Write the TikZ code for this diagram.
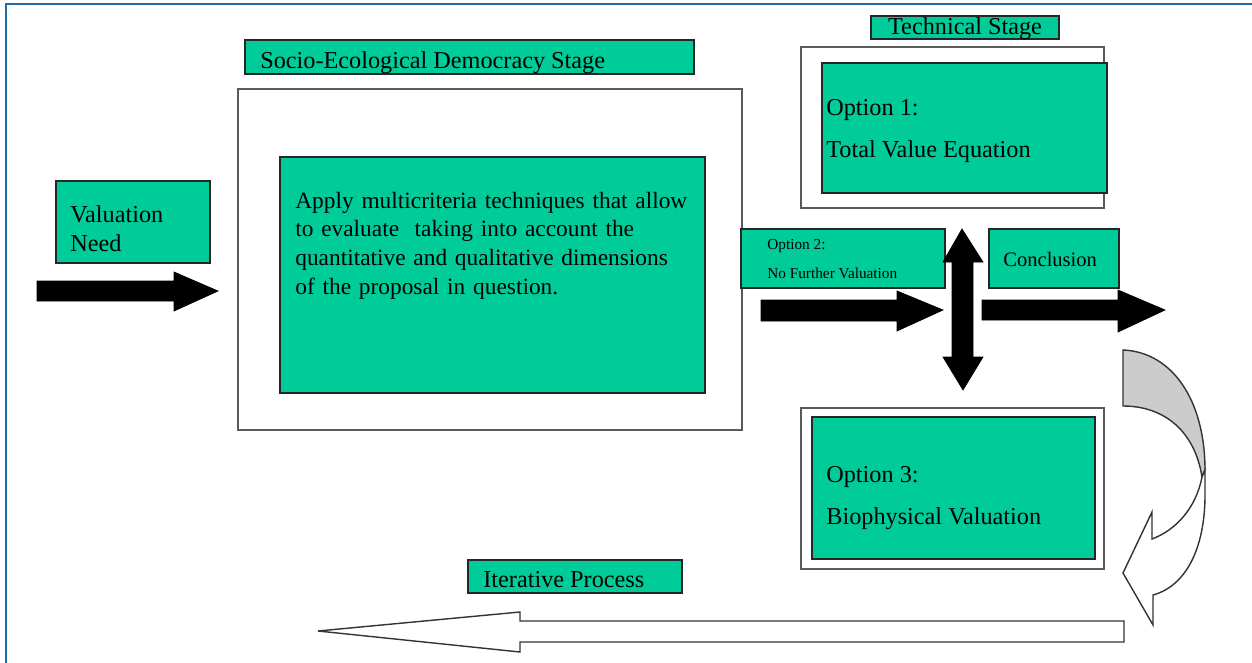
\documentclass[tikz,border=0pt]{standalone}
\usepackage{fontspec}
\setmainfont{Liberation Serif}
\usepackage{tikz}
\usetikzlibrary{calc}
\definecolor{panel}{HTML}{00CC99}
\definecolor{frame}{HTML}{1F6DA6}
\definecolor{rim}{HTML}{5A5A5A}
\definecolor{fold}{HTML}{CCCCCC}
\tikzset{
  card/.style={draw=black!85, fill=panel, line width=0.6pt},
  stage/.style={draw=rim, fill=white, line width=1.1pt},
  blk/.style={fill=black, draw=black, line width=0.4pt, line join=miter},
  hollow/.style={draw=black!80, fill=white, line width=0.8pt, line join=miter},
  big/.style={anchor=base west, inner sep=0pt, font=\fontsize{13.8}{16.5}\selectfont},
  mid/.style={anchor=base west, inner sep=0pt, font=\fontsize{11.7}{14}\selectfont},
  tiny/.style={anchor=base west, inner sep=0pt, font=\fontsize{8.7}{10}\selectfont},
}

\begin{document}
\begin{tikzpicture}[x=0.02cm, y=-0.02cm]
  \useasboundingbox (0,0) rectangle (1252,663);
  % page frame
  \draw[frame, line width=1.2pt] (6,663) -- (6,4) -- (1252,4);
  % socio-ecological stage
  \draw[card] (245,40) rectangle (694,74);
  \node[big] (socio) at (260,68) {Socio-Ecological Democracy Stage};
  \draw[stage] (238,89) rectangle (742,430);
  \draw[card] (280,157) rectangle (705,393);
  \node[big, align=left, text width=410*0.02cm, font=\fontsize{13.3}{16.5}\selectfont]
    (apply) at (295,208)
    {Apply multicriteria techniques that allow\\
     to evaluate\ \ taking into account the\\
     quantitative and qualitative dimensions\\
     of the proposal in question.};
  % valuation need
  \draw[card] (56,181) rectangle (210,263);
  \node[big] (need1) at (70,222) {Valuation};
  \node[big] (need2) at (70,251) {Need};
  \draw[blk] (37,281) -- (174,281) -- (174,272) -- (218,291) -- (174,311)
    -- (174,301) -- (37,301) -- cycle;
  % technical stage
  \draw[card] (871,16) rectangle (1059,39);
  \node[big, anchor=base] (tech) at (965,34) {Technical Stage};
  \draw[stage] (801,47) rectangle (1104,208);
  \draw[card] (822,63) rectangle (1107,193);
  \node[big] (opt1a) at (826,115) {Option 1:};
  \node[big] (opt1b) at (826,157) {Total Value Equation};
  % option 2
  \draw[card] (741,229) rectangle (945,288);
  \node[tiny] (opt2a) at (767,249) {Option 2:};
  \node[tiny] (opt2b) at (767,278) {No Further Valuation};
  \draw[blk] (761,300) -- (897,300) -- (897,291) -- (943,310) -- (897,331)
    -- (897,321) -- (761,321) -- cycle;
  % up / down arrow
  \draw[blk] (962,229) -- (983,262) -- (973,262) -- (973,357) -- (983,357)
    -- (963,390) -- (943,357) -- (952,357) -- (952,262) -- (943,262) -- cycle;
  % conclusion
  \draw[card] (989,229) rectangle (1119,288);
  \node[mid] (concl) at (1003,266) {Conclusion};
  \draw[blk] (982,300) -- (1118,300) -- (1118,290) -- (1165,310) -- (1118,332)
    -- (1118,320) -- (982,320) -- cycle;
  % option 3
  \draw[stage] (801,408) rectangle (1104,569);
  \draw[card] (812,417) rectangle (1095,559);
  \node[big] (opt3a) at (826,482) {Option 3:};
  \node[big] (opt3b) at (826,524) {Biophysical Valuation};
  % curved return arrow
  \draw[hollow, fill=fold] (1123,350) .. controls (1172,352) and (1205,400) .. (1205,470)
    -- (1202,477) .. controls (1195,432) and (1165,406) .. (1123,406) -- cycle;
  \draw[hollow] (1205,470) -- (1205,495) .. controls (1205,548) and (1186,586) .. (1153,595)
    -- (1153,625) -- (1123,573) -- (1152,512) -- (1152,539)
    .. controls (1176,530) and (1196,508) .. (1202,477) -- cycle;
  % iterative process
  \draw[card] (468,560) rectangle (682,593);
  \node[big] (iter) at (483,587) {Iterative Process};
  \draw[hollow] (1124,621) -- (520,621) -- (520,612) -- (318,631) -- (520,652)
    -- (520,642) -- (1124,642) -- cycle;
\end{tikzpicture}
\end{document}
